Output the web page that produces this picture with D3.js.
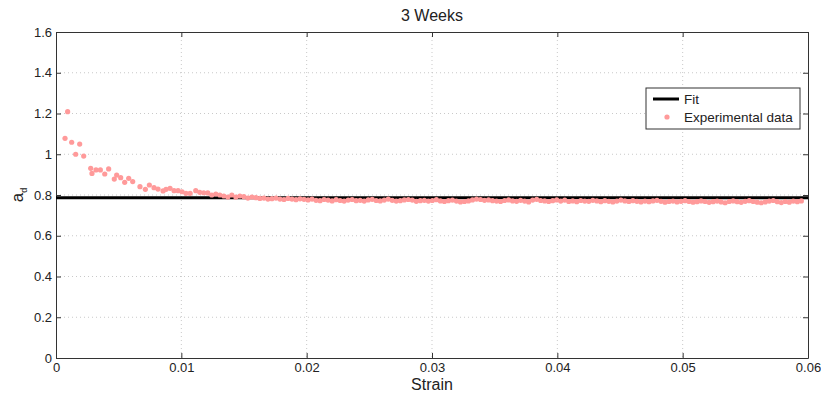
<!DOCTYPE html>
<html><head><meta charset="utf-8">
<script src="https://cdn.jsdelivr.net/npm/d3@7"></script>
<style>body{margin:0;background:#fff}svg{display:block}text{font-family:"Liberation Sans",Arial,sans-serif;fill:#222}</style>
</head><body><svg id="c" width="821" height="396"></svg>
<script>
const title = "3 Weeks";
const xTicks = [0,0.01,0.02,0.03,0.04,0.05,0.06];
const yTicks = [0,0.2,0.4,0.6,0.8,1,1.2,1.4,1.6];
const fitValue = 0.787;
const strain = [
0.00072,0.00093,0.00125,0.00157,0.00189,0.00221,0.00277,0.00287,0.00319,0.00354,
0.00389,0.0042,0.00465,0.00484,0.00516,0.00548,0.0058,0.00612,0.0067,0.00713,
0.00745,0.00782,0.00814,0.00854,0.00878,0.0091,0.00942,0.00974,0.01006,0.01037,
0.0107,0.01115,0.01147,0.01179,
0.01211,0.01243,0.01275,0.01307,0.01339,0.01371,0.01403,0.01435,0.01467,0.01499,
0.01531,0.01563,0.01595,0.01627,0.01659,0.01691,0.01723,0.01755,0.01787,0.01819,
0.01851,0.01883,0.01915,0.01947,0.01979,
0.02011,0.02043,0.02075,0.02107,0.02139,0.02171,0.02203,0.02235,0.02267,0.02299,
0.02331,0.02363,0.02395,0.02427,0.02459,0.02491,0.02523,0.02555,0.02587,0.02619,
0.02651,0.02683,0.02715,0.02747,0.02779,0.02811,0.02843,0.02875,0.02907,0.02939,
0.02971,0.03003,0.03035,0.03067,0.03099,0.03131,0.03163,0.03195,0.03227,0.03259,
0.03291,0.03323,0.03355,0.03387,0.03419,0.03451,0.03483,0.03515,0.03547,0.03579,
0.03611,0.03643,0.03675,0.03707,0.03739,0.03771,0.03803,0.03835,0.03867,0.03899,
0.03931,0.03963,0.03995,0.04027,0.04059,0.04091,0.04123,0.04155,0.04187,0.04219,
0.04251,0.04283,0.04315,0.04347,0.04379,0.04411,0.04443,0.04475,0.04507,0.04539,
0.04571,0.04603,0.04635,0.04667,0.04699,0.04731,0.04763,0.04795,0.04827,0.04859,
0.04891,0.04923,0.04955,0.04987,0.05019,0.05051,0.05083,0.05115,0.05147,0.05179,
0.05211,0.05243,0.05275,0.05307,0.05339,0.05371,0.05403,0.05435,0.05467,0.05499,
0.05531,0.05563,0.05595,0.05627,0.05659,0.05691,0.05723,0.05755,0.05787,0.05819,
0.05851,0.05883,0.05915,0.05947];
const ad = [
1.078,1.209,1.059,1.0,1.05,0.991,0.931,0.906,0.923,0.923,
0.903,0.928,0.878,0.898,0.885,0.862,0.882,0.866,0.841,0.828,
0.849,0.836,0.829,0.82,0.828,0.833,0.821,0.821,0.816,0.808,
0.808,0.821,0.813,0.811,
0.81,0.80,0.805,0.80,0.795,0.79,0.80,0.79,0.795,0.792,
0.785,0.79,0.787,0.783,0.785,0.78,0.782,0.785,0.78,0.778,
0.783,0.78,0.777,0.781,0.779,
0.776,0.780,0.774,0.772,0.778,0.775,0.771,0.777,0.773,0.770,
0.775,0.778,0.772,0.774,0.770,0.776,0.779,0.773,0.771,0.775,
0.780,0.774,0.770,0.772,0.776,0.778,0.775,0.769,0.772,0.774,
0.770,0.773,0.777,0.771,0.768,0.772,0.775,0.770,0.766,0.768,
0.771,0.776,0.780,0.778,0.774,0.776,0.772,0.770,0.768,0.773,
0.776,0.771,0.769,0.774,0.770,0.766,0.775,0.779,0.773,0.771,
0.768,0.772,0.776,0.770,0.775,0.768,0.771,0.767,0.773,0.770,
0.769,0.774,0.771,0.767,0.772,0.769,0.766,0.770,0.775,0.771,
0.768,0.772,0.769,0.766,0.770,0.767,0.771,0.774,0.769,0.765,
0.768,0.770,0.766,0.769,0.772,0.768,0.765,0.767,0.771,0.768,
0.764,0.767,0.770,0.766,0.762,0.768,0.771,0.767,0.764,0.769,
0.772,0.768,0.765,0.762,0.766,0.770,0.773,0.767,0.763,0.768,
0.765,0.770,0.767,0.771];
const legendLabels = ["Fit","Experimental data"];

const svg = d3.select("#c");
const L = 56, R = 808, T = 32, B = 358;
const x = d3.scaleLinear().domain([0,0.06]).range([L,R]);
const y = d3.scaleLinear().domain([0,1.6]).range([B,T]);

// grid
const g = svg.append("g");
g.selectAll(".gx").data(xTicks.slice(1,-1)).enter().append("line")
  .attr("x1",d=>x(d)).attr("x2",d=>x(d)).attr("y1",T).attr("y2",B)
  .attr("stroke","#bbb").attr("stroke-width",0.8).attr("stroke-dasharray","1,3");
g.selectAll(".gy").data(yTicks.slice(1,-1)).enter().append("line")
  .attr("y1",d=>y(d)).attr("y2",d=>y(d)).attr("x1",L).attr("x2",R)
  .attr("stroke","#bbb").attr("stroke-width",0.8).attr("stroke-dasharray","1,3");

// axes
const fmt = d => d3.format("")(+d.toFixed(2));
const xa = svg.append("g").attr("transform",`translate(0,${B})`)
  .call(d3.axisBottom(x).tickValues(xTicks).tickFormat(fmt).tickSizeInner(-5).tickSizeOuter(0).tickPadding(5));
const xt = svg.append("g").attr("transform",`translate(0,${T})`)
  .call(d3.axisTop(x).tickValues(xTicks).tickFormat("").tickSizeInner(-5).tickSizeOuter(0));
const ya = svg.append("g").attr("transform",`translate(${L},0)`)
  .call(d3.axisLeft(y).tickValues(yTicks).tickFormat(fmt).tickSizeInner(-5).tickSizeOuter(0).tickPadding(4));
const yr = svg.append("g").attr("transform",`translate(${R},0)`)
  .call(d3.axisRight(y).tickValues(yTicks).tickFormat("").tickSizeInner(-5).tickSizeOuter(0));
[xa,xt,ya,yr].forEach(a=>{
  a.selectAll("path").attr("stroke","#333").attr("stroke-width",1);
  a.selectAll("line").attr("stroke","#333");
  a.selectAll("text").attr("font-size",13).attr("fill","#222").style("font-family","Liberation Sans, Arial, sans-serif");
});

// fit line
svg.append("line").attr("x1",x(0)).attr("x2",x(0.06)).attr("y1",y(fitValue)).attr("y2",y(fitValue))
  .attr("stroke","#000").attr("stroke-width",3);

// data
svg.append("g").selectAll("circle").data(strain.map((s,i)=>[s,ad[i]])).enter().append("circle")
  .attr("cx",d=>x(d[0])).attr("cy",d=>y(d[1])).attr("r",2.6).attr("fill","#ff9a9a");

// title and labels
svg.append("text").attr("x",(L+R)/2).attr("y",21).attr("text-anchor","middle").attr("font-size",16).text(title);
svg.append("text").attr("x",(L+R)/2).attr("y",390).attr("text-anchor","middle").attr("font-size",16).text("Strain");
const yl = svg.append("text").attr("transform",`translate(23,${(T+B)/2}) rotate(-90)`).attr("text-anchor","middle").attr("font-size",17);
yl.append("tspan").text("a");
yl.append("tspan").attr("font-size",9).attr("dy",4).text("d");

// legend
const lg = svg.append("g").attr("transform","translate(646,88)");
lg.append("rect").attr("width",154).attr("height",41).attr("fill","#fff").attr("stroke","#333").attr("stroke-width",1);
lg.append("line").attr("x1",7).attr("x2",33).attr("y1",11).attr("y2",11).attr("stroke","#000").attr("stroke-width",3);
lg.append("circle").attr("cx",21).attr("cy",29).attr("r",2.6).attr("fill","#ff9a9a");
lg.selectAll("text.l").data(legendLabels).enter().append("text")
  .attr("x",38).attr("y",(d,i)=>16+i*18).attr("font-size",13.5).text(d=>d);
</script></body></html>
